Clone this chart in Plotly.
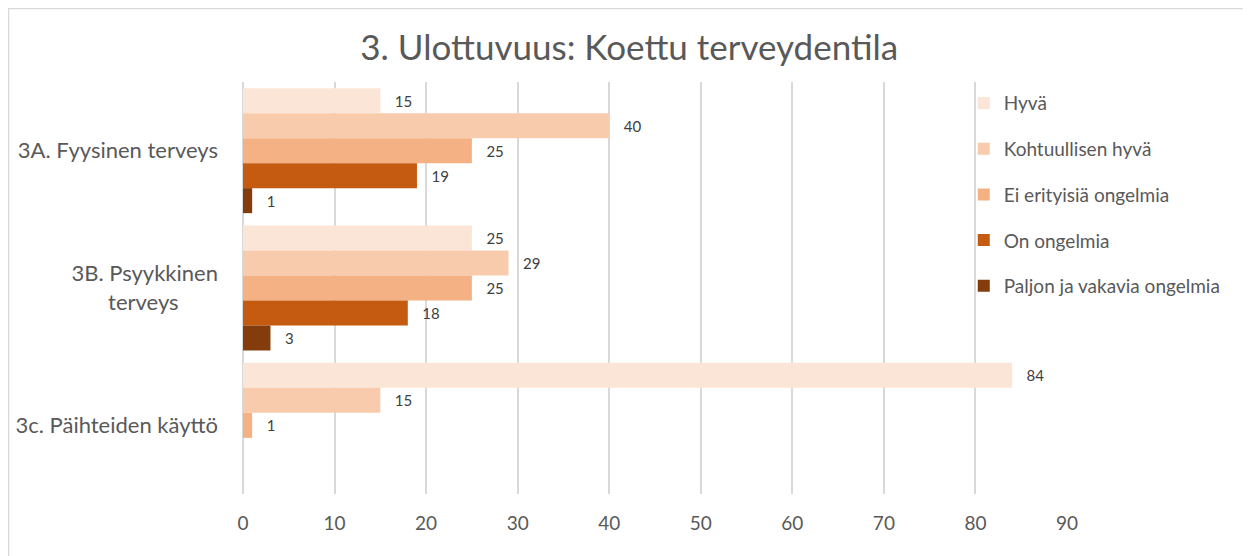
import plotly.graph_objects as go

categories = ['3A. Fyysinen terveys', '3B. Psyykkinen<br>terveys' + '\u00a0' * 7, '3c. Päihteiden käyttö']
series_names = ['Hyvä', 'Kohtuullisen hyvä', 'Ei erityisiä ongelmia', 'On ongelmia', 'Paljon ja vakavia ongelmia']
hyva = [15, 25, 84]
kohtuullisen = [40, 29, 15]
ei_ongelmia = [25, 25, 1]
on_ongelmia = [19, 18, None]
paljon = [1, 3, None]
x_ticks = [0, 10, 20, 30, 40, 50, 60, 70, 80, 90]

colors = ['#FBE5D6', '#F8CBAD', '#F4B183', '#C55A11', '#843C0C']
font_family = 'Lato, Open Sans, sans-serif'
text_color = '#595959'

fig = go.Figure()
for name, vals, col in zip(series_names, [hyva, kohtuullisen, ei_ongelmia, on_ongelmia, paljon], colors):
    fig.add_trace(go.Bar(
        y=categories, x=vals, name=name, orientation='h',
        marker=dict(color=col, line=dict(width=0)),
        text=['   ' + str(v) if v is not None else '' for v in vals],
        textposition='outside', cliponaxis=False,
        textfont=dict(size=15, color='#404040', family=font_family),
        legendgroup=name
    ))

fig.update_layout(
    width=1251, height=556,
    barmode='group', bargap=0.09, bargroupgap=0,
    plot_bgcolor='white', paper_bgcolor='white',
    margin=dict(l=235, r=192, t=74, b=70, autoexpand=False),
    font=dict(family=font_family, color=text_color, size=19),
    title=dict(text='3. Ulottuvuus: Koettu terveydentila', x=0.4966, xref='container', y=0.928,
               yanchor='middle', font=dict(size=35, color=text_color, family=font_family)),
    legend=dict(x=0.764, y=0.863, xref='container', yref='container', xanchor='left', yanchor='top',
                traceorder='grouped', tracegroupgap=18, font=dict(size=19, color=text_color),
                itemwidth=30, bgcolor='rgba(0,0,0,0)'),
    showlegend=True,
)
fig.update_xaxes(range=[0, 90], tickvals=x_ticks, showgrid=True, gridcolor='#D9D9D9', gridwidth=2,
                 zeroline=True, zerolinecolor='#D9D9D9', zerolinewidth=2, showline=False,
                 tickfont=dict(size=19, color=text_color), ticks='', ticklabelstandoff=16)
fig.update_yaxes(autorange='reversed', showgrid=False, showline=False, ticks='',
                 tickfont=dict(size=22, color=text_color), ticklabelstandoff=24)

# chart border
fig.add_shape(type='rect', xref='paper', yref='paper', x0=-0.2846, x1=1.25, y0=-0.25, y1=1.1784,
              line=dict(color='#D9D9D9', width=1.5), fillcolor='rgba(0,0,0,0)', layer='below')

fig.write_html('out.html')
